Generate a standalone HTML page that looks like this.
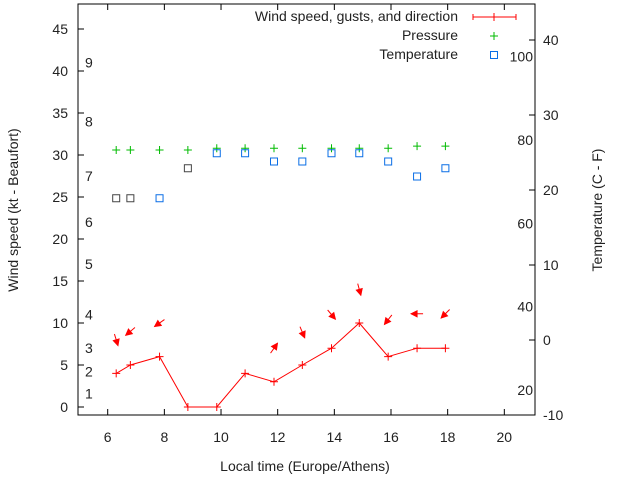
<!DOCTYPE html>
<html><head><meta charset="utf-8"><style>
body{margin:0;background:#fff;}
svg{display:block;font-family:"Liberation Sans",sans-serif;font-size:14px;fill:#222;}
</style></head><body>
<svg id="c" width="640" height="480" viewBox="0 0 640 480"></svg>
<script>
const times=[6.3,6.8,7.83,8.83,9.85,10.85,11.87,12.87,13.9,14.88,15.9,16.92,17.92];
const wind=[4,5,6,0,0,4,3,5,7,10,6,7,7];
const gustPos=[8,9,10,null,null,null,7,8.9,11,14,10.4,11.1,11.1];
const dirDeg=[163,230,235,null,null,null,35,157,140,165,218,270,225];
const pressure=[30.6,30.6,30.6,30.6,30.8,30.8,30.8,30.8,30.8,30.8,30.8,31.05,31.05];
const temps=[18.9,18.9,18.9,22.9,24.9,24.9,23.8,23.8,24.9,24.9,23.8,21.8,22.9];
const xTicks=[6,8,10,12,14,16,18,20];
const yTicks=[0,5,10,15,20,25,30,35,40,45];
const y2Ticks=[-10,0,10,20,30,40];
const beaufort=[[1,1.6],[2,4.2],[3,7],[4,11],[5,17],[6,22],[7,27.5],[8,34],[9,41]];
const fahr=[20,40,60,80,100];

const NS='http://www.w3.org/2000/svg';
const svg=document.getElementById('c');
const L=78,R=535,T=4,B=415;
const X=h=>107.7+(h-6)*28.33;
const Y=v=>407-v*8.4;
const Y2=c=>340-c*7.5;
function el(tag,a,parent){const e=document.createElementNS(NS,tag);for(const k in a)e.setAttribute(k,a[k]);(parent||svg).appendChild(e);return e;}
function txt(s,x,y,anchor,name){const t=el('text',{x:x,y:y,'text-anchor':anchor||'middle'});t.textContent=s;


return t;}

const frame=el('rect',{x:L,y:T,width:R-L,height:B-T,fill:'none',stroke:'#000','stroke-width':1});



xTicks.forEach(h=>{const x=X(h);
el('line',{x1:x,y1:B,x2:x,y2:B-6,stroke:'#000'});el('line',{x1:x,y1:T,x2:x,y2:T+6,stroke:'#000'});
txt(String(h),x,442,'middle','x-tick-label');});
yTicks.forEach(v=>{const y=Y(v);
el('line',{x1:L,y1:y,x2:L+6,y2:y,stroke:'#000'});
txt(String(v),68,y+5,'end','y-tick-label');});
y2Ticks.forEach(c=>{const y=Y2(c);
el('line',{x1:R,y1:y,x2:R-6,y2:y,stroke:'#000'});
txt(String(c),543,y+5,'start','y2-tick-label');});
beaufort.forEach(b=>txt(String(b[0]),85,Y(b[1])+5,'start','beaufort-label'));
fahr.forEach(f=>txt(String(f),533,Y2((f-32)/1.8)+5,'end','fahrenheit-label'));

txt('Local time (Europe/Athens)',305,471,'middle','x-axis-title');
const yt=txt('Wind speed (kt - Beaufort)',0,0,'middle','y-axis-title');yt.setAttribute('transform','translate(18,210) rotate(-90)');
const yt2=txt('Temperature (C - F)',0,0,'middle','y2-axis-title');yt2.setAttribute('transform','translate(602,210) rotate(-90)');

const pts=times.map((t,i)=>X(t)+','+Y(wind[i])).join(' ');
const pl=el('polyline',{points:pts,fill:'none',stroke:'#f00','stroke-width':1});


times.forEach((t,i)=>{const x=X(t),y=Y(wind[i]);
const g=el('path',{d:`M${x-4} ${y}H${x+4}M${x} ${y-4}V${y+4}`,stroke:'#f00'});

});

times.forEach((t,i)=>{if(gustPos[i]==null||dirDeg[i]==null)return;
const cx=X(t),cy=Y(gustPos[i]),a=dirDeg[i]*Math.PI/180,len=12;
const dx=Math.sin(a)*len/2,dy=-Math.cos(a)*len/2;
const x1=cx-dx,y1=cy-dy,x2=cx+dx,y2=cy+dy;
const ux=dx/(len/2),uy=dy/(len/2);
const hx=x2-ux*6,hy=y2-uy*6;
const g=el('g',{});


el('line',{x1:x1,y1:y1,x2:x2,y2:y2,stroke:'#f00'},g);
el('polygon',{points:`${x2},${y2} ${hx-uy*3},${hy+ux*3} ${hx+uy*3},${hy-ux*3}`,fill:'#f00',stroke:'#f00'},g);});

times.forEach((t,i)=>{const x=X(t),y=Y(pressure[i]);
const p=el('path',{d:`M${x-4} ${y}H${x+4}M${x} ${y-4}V${y+4}`,stroke:'#0b0'});

});
times.forEach((t,i)=>{const x=X(t),y=Y2(temps[i]);
const col=(i<2||i==3)?'#444':'#0a6ee6';
const r=el('rect',{x:x-3.5,y:y-3.5,width:7,height:7,fill:'none',stroke:col});

});

txt('Wind speed, gusts, and direction',458,21,'end','legend-wind-label');
el('path',{d:'M473 17H516M473 14V20M516 14V20M494 13V21',stroke:'#f00'});
txt('Pressure',458,40,'end','legend-pressure-label');
el('path',{d:'M490 36H498M494 32V40',stroke:'#0b0'});
txt('Temperature',458,59,'end','legend-temperature-label');
el('rect',{x:490.5,y:51.5,width:7,height:7,fill:'none',stroke:'#0a6ee6'});
</script>
</body></html>
